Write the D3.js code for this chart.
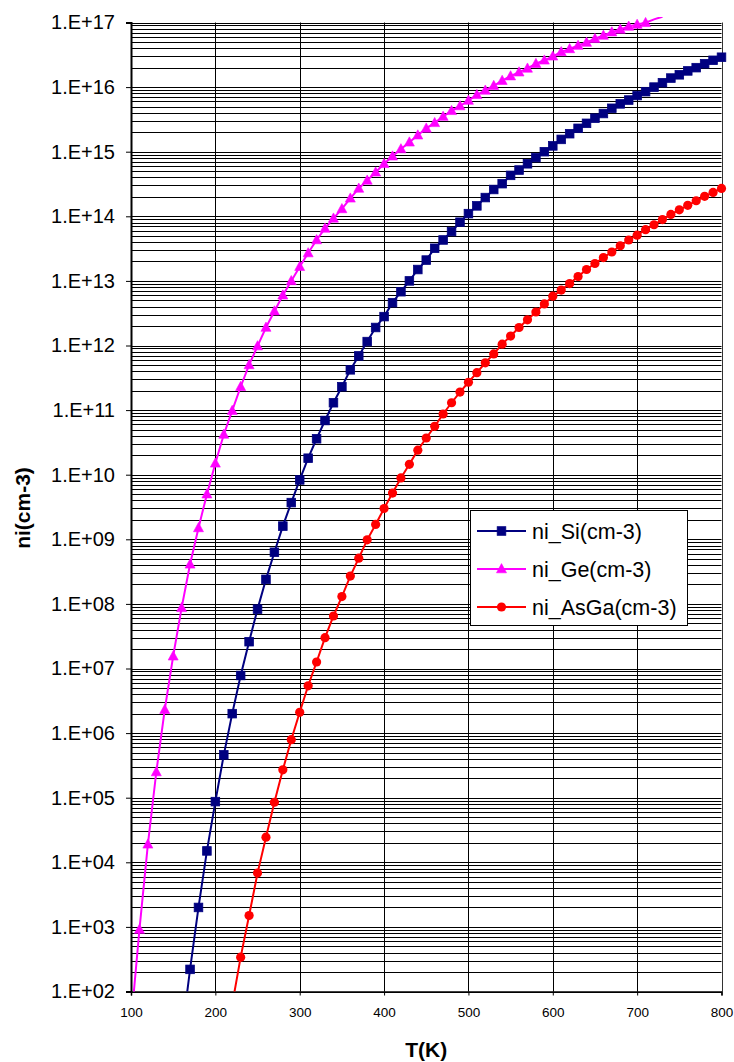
<!DOCTYPE html>
<html><head><meta charset="utf-8">
<script src="https://cdn.jsdelivr.net/npm/d3@7"></script>
<style>
body{margin:0;background:#fff}
svg{display:block}
text{font-family:"Liberation Sans",Arial,sans-serif;fill:#000}
</style></head>
<body><svg id="c" width="734" height="1062"></svg>
<script>
const temperatures = [100,110,120,130,140,150,160,170,180,190,200,210,220,230,240,250,260,270,280,290,300,310,320,330,340,350,360,370,380,390,400,410,420,430,440,450,460,470,480,490,500,510,520,530,540,550,560,570,580,590,600,610,620,630,640,650,660,670,680,690,700,710,720,730,740,750,760,770,780,790,800];

const niSi = [null,null,null,null,null,null,
 2.0e1,2.2e2,2.0e3,1.5e4,8.7e4,4.6e5,2.0e6,7.8e6,2.6e7,8.3e7,
 2.4e8,6.3e8,1.6e9,3.7e9,8.3e9,1.8e10,3.6e10,6.9e10,1.3e11,2.3e11,
 4.2e11,6.9e11,1.15e12,1.9e12,2.8e12,4.6e12,6.8e12,1.0e13,1.5e13,2.1e13,
 3.2e13,4.3e13,5.8e13,8.1e13,1.1e14,1.45e14,1.95e14,2.6e14,3.2e14,4.3e14,
 5.2e14,6.5e14,8.1e14,1.0e15,1.23e15,1.55e15,1.9e15,2.3e15,2.75e15,3.3e15,
 3.9e15,4.7e15,5.5e15,6.3e15,7.4e15,8.5e15,1.0e16,1.17e16,1.38e16,1.55e16,
 1.78e16,2.0e16,2.3e16,2.6e16,2.9e16];

const niGe = [3.2e1,9.1e2,1.9e4,2.5e5,2.3e6,1.55e7,8.7e7,4.1e8,1.5e9,5.0e9,
 1.5e10,4.2e10,9.8e10,2.3e11,5.0e11,9.8e11,1.9e12,3.4e12,6.0e12,1.0e13,
 1.66e13,2.7e13,4.3e13,6.5e13,9.3e13,1.3e14,1.9e14,2.7e14,3.6e14,4.8e14,
 6.5e14,8.5e14,1.1e15,1.4e15,1.8e15,2.3e15,2.8e15,3.5e15,4.3e15,5.1e15,
 6.2e15,7.6e15,8.9e15,1.05e16,1.26e16,1.48e16,1.7e16,1.95e16,2.3e16,2.6e16,
 3.0e16,3.5e16,3.9e16,4.4e16,4.9e16,5.6e16,6.3e16,7.1e16,7.8e16,8.7e16,
 9.3e16,9.9e16,1.12e17,1.23e17,null,null,null,null,null,null,null];

const niAsGa = [null,null,null,null,null,null,null,null,null,null,null,null,
 6.3e1,3.4e2,1.5e3,6.8e3,2.45e4,8.5e4,2.7e5,7.9e5,2.1e6,5.4e6,
 1.26e7,3.0e7,6.5e7,1.3e8,2.7e8,5.1e8,9.8e8,1.7e9,3.0e9,5.2e9,
 8.9e9,1.45e10,2.4e10,3.7e10,5.6e10,8.7e10,1.3e11,1.9e11,2.7e11,3.8e11,
 5.4e11,7.4e11,1.05e12,1.4e12,1.9e12,2.5e12,3.3e12,4.4e12,5.8e12,7.2e12,
 9.1e12,1.17e13,1.5e13,1.86e13,2.3e13,2.8e13,3.5e13,4.3e13,5.1e13,6.2e13,
 7.4e13,8.9e13,1.07e14,1.26e14,1.48e14,1.74e14,2.04e14,2.34e14,2.7e14];

const seriesNames = ["ni_Si(cm-3)","ni_Ge(cm-3)","ni_AsGa(cm-3)"];
const seriesColors = ["#000080","#FF00FF","#FF0000"];
const seriesMarkers = ["square","triangle","circle"];

const xTicks = [100,200,300,400,500,600,700,800];
const xTickLabels = ["100","200","300","400","500","600","700","800"];
const yTicks = [1e2,1e3,1e4,1e5,1e6,1e7,1e8,1e9,1e10,1e11,1e12,1e13,1e14,1e15,1e16,1e17];
const yTickLabels = ["1.E+02","1.E+03","1.E+04","1.E+05","1.E+06","1.E+07","1.E+08","1.E+09","1.E+10","1.E+11","1.E+12","1.E+13","1.E+14","1.E+15","1.E+16","1.E+17"];
const xTitle = "T(K)";
const yTitle = "ni(cm-3)";

const L = 131, R = 721.5, T = 22.5, B = 991.5;
const svg = d3.select("#c");
const x = d3.scaleLinear().domain([100,800]).range([L,R]);
const y = d3.scaleLog().domain([1e2,1e17]).range([B,T]);

// minor + major horizontal grid
const gridVals = [];
yTicks.forEach((d,i)=>{ if(i<yTicks.length-1){ for(let m=1;m<=9;m++) gridVals.push(d*m);} else gridVals.push(d); });
svg.append("g").selectAll("line").data(gridVals).join("line")
  .attr("x1",L).attr("x2",R)
  .attr("y1",d=>Math.round(y(d))+0.5).attr("y2",d=>Math.round(y(d))+0.5)
  .attr("stroke","#000").attr("stroke-width",1);
// vertical grid
svg.append("g").selectAll("line").data(xTicks.slice(1)).join("line")
  .attr("x1",d=>Math.round(x(d))+0.5).attr("x2",d=>Math.round(x(d))+0.5)
  .attr("y1",T).attr("y2",B)
  .attr("stroke",d=>d===800?"#333":"#000").attr("stroke-width",1);

// axes
const yAxis = d3.axisLeft(y).tickValues(yTicks).tickSize(5).tickPadding(11)
  .tickFormat((d,i)=>yTickLabels[i]);
const gy = svg.append("g").attr("transform",`translate(${L},0)`).call(yAxis);
gy.select(".domain").attr("stroke","#000").attr("stroke-width",2);
gy.selectAll(".tick line").attr("stroke","#000");
gy.selectAll(".tick text").attr("font-size","20px").attr("font-family","Liberation Sans, Arial, sans-serif").attr("fill","#000");

const xAxis = d3.axisBottom(x).tickValues(xTicks).tickSize(4).tickPadding(12)
  .tickFormat((d,i)=>xTickLabels[i]);
const gx = svg.append("g").attr("transform",`translate(0,${B})`).call(xAxis);
gx.select(".domain").attr("stroke","#000").attr("stroke-width",1.5);
gx.selectAll(".tick line").attr("stroke","#000");
gx.selectAll(".tick text").attr("font-size","13.5px").attr("font-family","Liberation Sans, Arial, sans-serif").attr("fill","#000");

// titles
svg.append("text").attr("x",(L+R)/2).attr("y",1057).attr("text-anchor","middle")
  .attr("font-size","21px").attr("font-weight","bold").text(xTitle);
svg.append("text").attr("transform",`translate(30,508) rotate(-90)`).attr("text-anchor","middle")
  .attr("font-size","21px").attr("font-weight","bold").text(yTitle);

// clip
svg.append("clipPath").attr("id","clip").append("rect")
  .attr("x",L).attr("y",17).attr("width",R-L+6).attr("height",B-17);

const allSeries = [niSi,niGe,niAsGa].map((vals,i)=>({
  name:seriesNames[i], color:seriesColors[i], marker:seriesMarkers[i],
  pts: temperatures.map((t,j)=>({t, v: vals[j]}))
}));

const line = d3.line().defined(d=>d.v!=null).x(d=>x(d.t)).y(d=>y(d.v));

function drawMarker(g, type, cx, cy, color){
  if(type==="square"){
    g.append("rect").attr("x",cx-4.3).attr("y",cy-4.3).attr("width",8.6).attr("height",8.6)
      .attr("fill",color).attr("stroke",color).attr("stroke-width",0.8);
  } else if(type==="triangle"){
    g.append("path").attr("d",`M${cx},${cy-5.4}L${cx+5},${cy+3.8}L${cx-5},${cy+3.8}Z`)
      .attr("fill",color).attr("stroke",color).attr("stroke-width",0.6);
  } else {
    g.append("circle").attr("cx",cx).attr("cy",cy).attr("r",4.6).attr("fill",color);
  }
}

allSeries.forEach(s=>{
  svg.append("path").attr("clip-path","url(#clip)")
    .attr("d",line(s.pts)).attr("fill","none").attr("stroke",s.color).attr("stroke-width",2);
});
allSeries.forEach(s=>{
  const g = svg.append("g");
  s.pts.filter(d=>d.v!=null && d.v>=1e2 && d.v<=1e17).forEach(d=>drawMarker(g,s.marker,x(d.t),y(d.v),s.color));
});

// legend
const lg = svg.append("g");
lg.append("rect").attr("x",470.5).attr("y",510.5).attr("width",217).attr("height",115)
  .attr("fill","#fff").attr("stroke","#000").attr("stroke-width",1);
allSeries.forEach((s,i)=>{
  const cy = 531 + i*38;
  lg.append("line").attr("x1",477).attr("x2",526).attr("y1",cy).attr("y2",cy)
    .attr("stroke",s.color).attr("stroke-width",2);
  drawMarker(lg,s.marker,501.5,cy,s.color);
  lg.append("text").attr("x",532).attr("y",cy+7.5).attr("font-size","21.5px").text(s.name);
});
</script></body></html>
